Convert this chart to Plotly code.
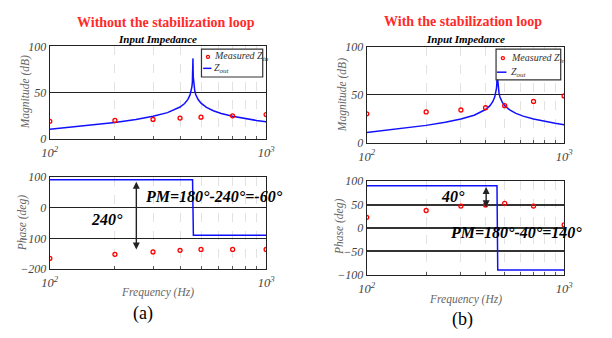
import plotly.graph_objects as go

# ---------------- data ----------------
freq_meas = [100, 200, 300, 400, 500, 700, 1000]
mag_meas_a = [19.3, 20.3, 21.4, 22.8, 23.8, 25.2, 26.6]
phase_meas_a = [-165, -152, -144, -139, -136, -136, -136]
mag_meas_b = [30.2, 32.2, 34.2, 36.6, 38.8, 43.2, 49.0]
phase_meas_b = [22.7, 37.3, 46.7, 49.3, 52.7, 46.7, 6.7]

freq_zout = [100, 120, 150, 175, 200, 250, 300, 350, 380, 400, 420, 435, 445, 450,
             454, 456, 457.5, 458.5, 459, 459.5, 460.5, 462, 464, 468, 473, 485,
             500, 530, 570, 620, 700, 800, 900, 1000]
mag_zout = [10.7, 12.5, 14.8, 16.5, 18.1, 21.3, 24.7, 28.7, 31.9, 34.7, 38.5, 42.9, 47.7, 51.6,
            56.7, 61.2, 67.2, 76.6, 87.0, 76.6, 67.1, 61.2, 56.8, 51.7, 47.9, 42.7,
            38.8, 34.3, 30.7, 27.8, 24.7, 22.1, 20.3, 18.8]
freq_phase_zout = [100, 457, 461, 1000]
phase_zout = [90, 90, -90, -90]

x_tickvals = [100, 1000]
x_ticktext = ["10<sup>2</sup>", "10<sup>3</sup>"]
x_minorvals = [200, 300, 400, 500, 600, 700, 800, 900]

SERIF = "Liberation Serif"
W, H = 612, 338


def px(x):
    return x / W


def py(y):
    return 1 - y / H


fig = go.Figure()

line_style = dict(color="#1010ff", width=1.5)
mark_style = dict(symbol="circle-open", color="red", size=4, line=dict(width=1.3))

fig.add_trace(go.Scatter(x=freq_zout, y=mag_zout, mode="lines", line=line_style, xaxis="x", yaxis="y"))
fig.add_trace(go.Scatter(x=freq_meas, y=mag_meas_a, mode="markers", marker=mark_style, xaxis="x", yaxis="y"))
fig.add_trace(go.Scatter(x=freq_phase_zout, y=phase_zout, mode="lines", line=line_style, xaxis="x2", yaxis="y2"))
fig.add_trace(go.Scatter(x=freq_meas, y=phase_meas_a, mode="markers", marker=mark_style, xaxis="x2", yaxis="y2"))
fig.add_trace(go.Scatter(x=freq_zout, y=mag_zout, mode="lines", line=line_style, xaxis="x3", yaxis="y3"))
fig.add_trace(go.Scatter(x=freq_meas, y=mag_meas_b, mode="markers", marker=mark_style, xaxis="x3", yaxis="y3"))
fig.add_trace(go.Scatter(x=freq_phase_zout, y=phase_zout, mode="lines", line=line_style, xaxis="x4", yaxis="y4"))
fig.add_trace(go.Scatter(x=freq_meas, y=phase_meas_b, mode="markers", marker=mark_style, xaxis="x4", yaxis="y4"))

tickfont = dict(family=SERIF, size=12, color="#444", style="italic")


def xax(domain, anchor):
    return dict(type="log", range=[2, 3], domain=domain, anchor=anchor,
                tickvals=x_tickvals, ticktext=x_ticktext,
                tickfont=dict(family=SERIF, size=12.5, color="#444", style="italic"),
                ticklabelstandoff=2,
                showgrid=False,
                minor=dict(tickvals=x_minorvals, showgrid=True, gridcolor="#e2e2e2", griddash="dash",
                           gridwidth=1, ticks="inside", ticklen=3, tickcolor="#555"),
                ticks="inside", ticklen=3, tickcolor="#555",
                showline=True, mirror=True, linecolor="#222", linewidth=1.2, zeroline=False)


def yax(domain, anchor, rng, dtick, gridw=1, gridc="#222"):
    return dict(range=rng, domain=domain, anchor=anchor, dtick=dtick, tickfont=tickfont,
                showgrid=True, gridcolor=gridc, gridwidth=gridw,
                ticks="", showline=True, mirror=True, linecolor="#222", linewidth=1.2, zeroline=False)


xl = [px(43), px(265.5)]
xr = [px(369), px(572)]

fig.update_layout(
    width=W, height=H, margin=dict(l=0, r=0, t=0, b=0),
    paper_bgcolor="white", plot_bgcolor="white", showlegend=False,
    font=dict(family=SERIF),
    xaxis=xax(xl, "y"),
    yaxis=yax([py(138), py(41)], "x", [0, 100], 50),
    xaxis2=xax(xl, "y2"),
    yaxis2=yax([py(273.5), py(177)], "x2", [-200, 100], 100),
    xaxis3=xax(xr, "y3"),
    yaxis3=yax([py(141.5), py(42)], "x3", [0, 100], 50),
    xaxis4=xax(xr, "y4"),
    yaxis4=yax([py(279.3), py(181.7)], "x4", [-100, 100], 50, gridw=2.2, gridc="#333"),
)

ann = []


def text(x, y, s, size, color="black", angle=0, xanchor="center"):
    ann.append(dict(x=px(x), y=py(y), xref="paper", yref="paper", text=s, showarrow=False,
                    font=dict(family=SERIF, size=size, color=color), textangle=angle,
                    xanchor=xanchor, yanchor="middle"))


text(162, 16, "<b>Without the stabilization loop</b>", 14, "#ff2a2a")
text(468, 15, "<b>With the stabilization loop</b>", 14, "#ff2a2a")
text(154, 33, "<b><i>Input Impedance</i></b>", 11)
text(471, 33, "<b><i>Input Impedance</i></b>", 11)
text(18, 89.5, "<i>Magnitude (dB)</i>", 11.5, "#666", -90)
text(344, 91.5, "<i>Magnitude (dB)</i>", 11.5, "#666", -90)
text(15, 226, "<i>Phase (deg)</i>", 11.5, "#666", -90)
text(341, 230, "<i>Phase (deg)</i>", 11.5, "#666", -90)
text(154, 298, "<i>Frequency (Hz)</i>", 11.5, "#666")
text(471, 305, "<i>Frequency (Hz)</i>", 11.5, "#666")
text(139, 320, "(a)", 18)
text(467, 326, "(b)", 18)
text(212, 198, "<b><i>PM=180°-240°=-60°</i></b>", 16)
text(102, 222, "<b><i>240°</i></b>", 16)
text(458, 198, "<b><i>40°</i></b>", 16)
text(523, 235, "<b><i>PM=180°-40°=140°</i></b>", 16)

# double arrows
ann.append(dict(x=2.4, y=-136, ax=2.4, ay=88, xref="x2", yref="y2", axref="x2", ayref="y2",
                text="", showarrow=True, arrowhead=2, arrowside="end+start", arrowsize=1,
                arrowwidth=1.4, arrowcolor="#222"))
ann.append(dict(x=2.605, y=44, ax=2.605, ay=91, xref="x4", yref="y4", axref="x4", ayref="y4",
                text="", showarrow=True, arrowhead=2, arrowside="end+start", arrowsize=1,
                arrowwidth=1.4, arrowcolor="#222"))

# manual legends
shapes = []


def legend(x0, y0, x1, y1, cx, cy1, lx0, lx1, cy2, tx):
    shapes.append(dict(type="rect", xref="paper", yref="paper", x0=px(x0), x1=px(x1), y0=py(y1), y1=py(y0),
                       fillcolor="white", line=dict(color="#333", width=1.2), layer="above"))
    shapes.append(dict(type="circle", xref="paper", yref="paper", x0=px(cx - 1.6), x1=px(cx + 1.6),
                       y0=py(cy1 + 1.6), y1=py(cy1 - 1.6), line=dict(color="red", width=1.3),
                       fillcolor="white", layer="above"))
    shapes.append(dict(type="line", xref="paper", yref="paper", x0=px(lx0), x1=px(lx1), y0=py(cy2), y1=py(cy2),
                       line=dict(color="#1010ff", width=1.5), layer="above"))
    text(tx, cy1, "<i>Measured Z<sub>in</sub></i>", 10, "#333", xanchor="left")
    text(tx, cy2, "<i>Z<sub>out</sub></i>", 10, "#333", xanchor="left")


legend(199, 44, 262, 73, 205.7, 52, 200.7, 209.3, 64, 209.5)
legend(502, 44, 568.5, 76, 509, 53.3, 503, 512.7, 68, 515.5)

fig.update_layout(annotations=ann, shapes=shapes)
fig.write_html("out.html")
